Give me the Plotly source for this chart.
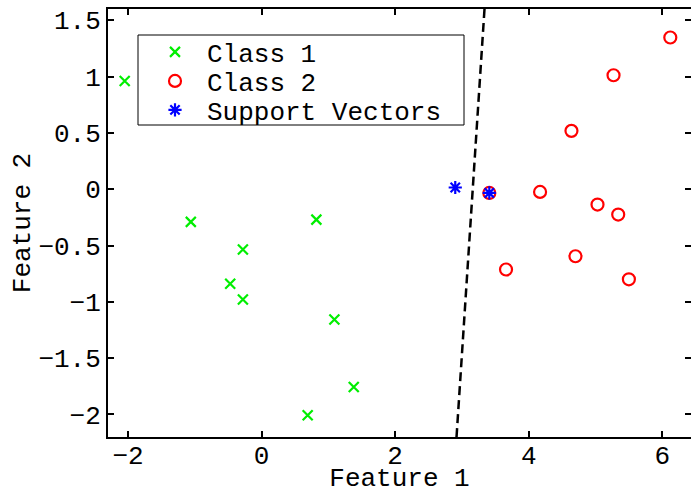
import plotly.graph_objects as go

# Class 1 (green x)
class1_x = [-2.05, -1.06, 0.82, -0.28, -0.47, -0.28, 1.09, 1.38, 0.69]
class1_y = [0.96, -0.29, -0.27, -0.535, -0.84, -0.98, -1.157, -1.756, -2.007]

# Class 2 (red circles)
class2_x = [6.12, 5.27, 4.64, 3.41, 4.17, 5.03, 5.34, 4.70, 3.66, 5.50]
class2_y = [1.347, 1.012, 0.518, -0.033, -0.024, -0.136, -0.225, -0.595, -0.713, -0.80]

# Support vectors
sv_x = [2.90, 3.41]
sv_y = [0.015, -0.033]

# Decision boundary end points
boundary_x = [3.338, 2.919]
boundary_y = [1.6, -2.2]

x_ticks = [-2, 0, 2, 4, 6]
y_ticks = [-2, -1.5, -1, -0.5, 0, 0.5, 1, 1.5]

FONT = "Liberation Mono, Courier New, monospace"

fig = go.Figure()
fig.add_trace(go.Scatter(
    x=class1_x, y=class1_y, mode="markers", name="Class 1", legend="legend",
    marker=dict(symbol="x-thin-open", size=10, color="#00ee00",
                line=dict(color="#00ee00", width=2.2))))
fig.add_trace(go.Scatter(
    x=class2_x, y=class2_y, mode="markers", name="Class 2", legend="legend2",
    marker=dict(symbol="circle-open", size=12, color="#ff0000",
                line=dict(color="#ff0000", width=2.2))))
fig.add_trace(go.Scatter(
    x=boundary_x, y=boundary_y, mode="lines", showlegend=False,
    line=dict(color="black", width=2.5, dash="9px,5px")))
fig.add_trace(go.Scatter(
    x=sv_x, y=sv_y, mode="markers", name="Support Vectors", legend="legend3",
    marker=dict(symbol="asterisk-open", size=11, color="#0000ff",
                line=dict(color="#0000ff", width=2.2))))

L, R, T, B = 108, 0, 9, 57
W, H = 691, 494
pw, ph = W - L - R, H - T - B

def px_x(p):
    return (p - L) / pw

def px_y(p):
    return (H - B - p) / ph

axis_common = dict(
    showline=True, linewidth=2, linecolor="black", mirror="allticks",
    ticks="inside", ticklen=6, tickwidth=2, tickcolor="black",
    showgrid=False, zeroline=False,
    tickfont=dict(family=FONT, size=26, color="black"),
)

fig.update_xaxes(range=[-2.3, 6.43], tickvals=x_ticks, ticklabelstandoff=-6,
                 title=dict(text="Feature 1", font=dict(family=FONT, size=26, color="black"), standoff=6),
                 **axis_common)
fig.update_yaxes(range=[-2.2, 1.6], tickvals=y_ticks,
                 title=dict(text="Feature 2", font=dict(family=FONT, size=26, color="black"), standoff=0),
                 **axis_common)

leg_common = dict(bgcolor="rgba(0,0,0,0)", borderwidth=0, itemwidth=54,
                  font=dict(family=FONT, size=26, color="black"),
                  xanchor="left", yanchor="middle")
lx = px_x(143)
fig.update_layout(
    legend=dict(x=lx, y=px_y(52), **leg_common),
    legend2=dict(x=lx, y=px_y(81), **leg_common),
    legend3=dict(x=lx, y=px_y(110), **leg_common),
    shapes=[dict(type="rect", xref="paper", yref="paper",
                 x0=px_x(138), x1=px_x(464), y0=px_y(125), y1=px_y(35),
                 line=dict(color="black", width=1), fillcolor="white", layer="above")],
    width=W, height=H,
    margin=dict(l=L, r=R, t=T, b=B, autoexpand=False),
    paper_bgcolor="white", plot_bgcolor="white",
)

fig.write_html("out.html")
